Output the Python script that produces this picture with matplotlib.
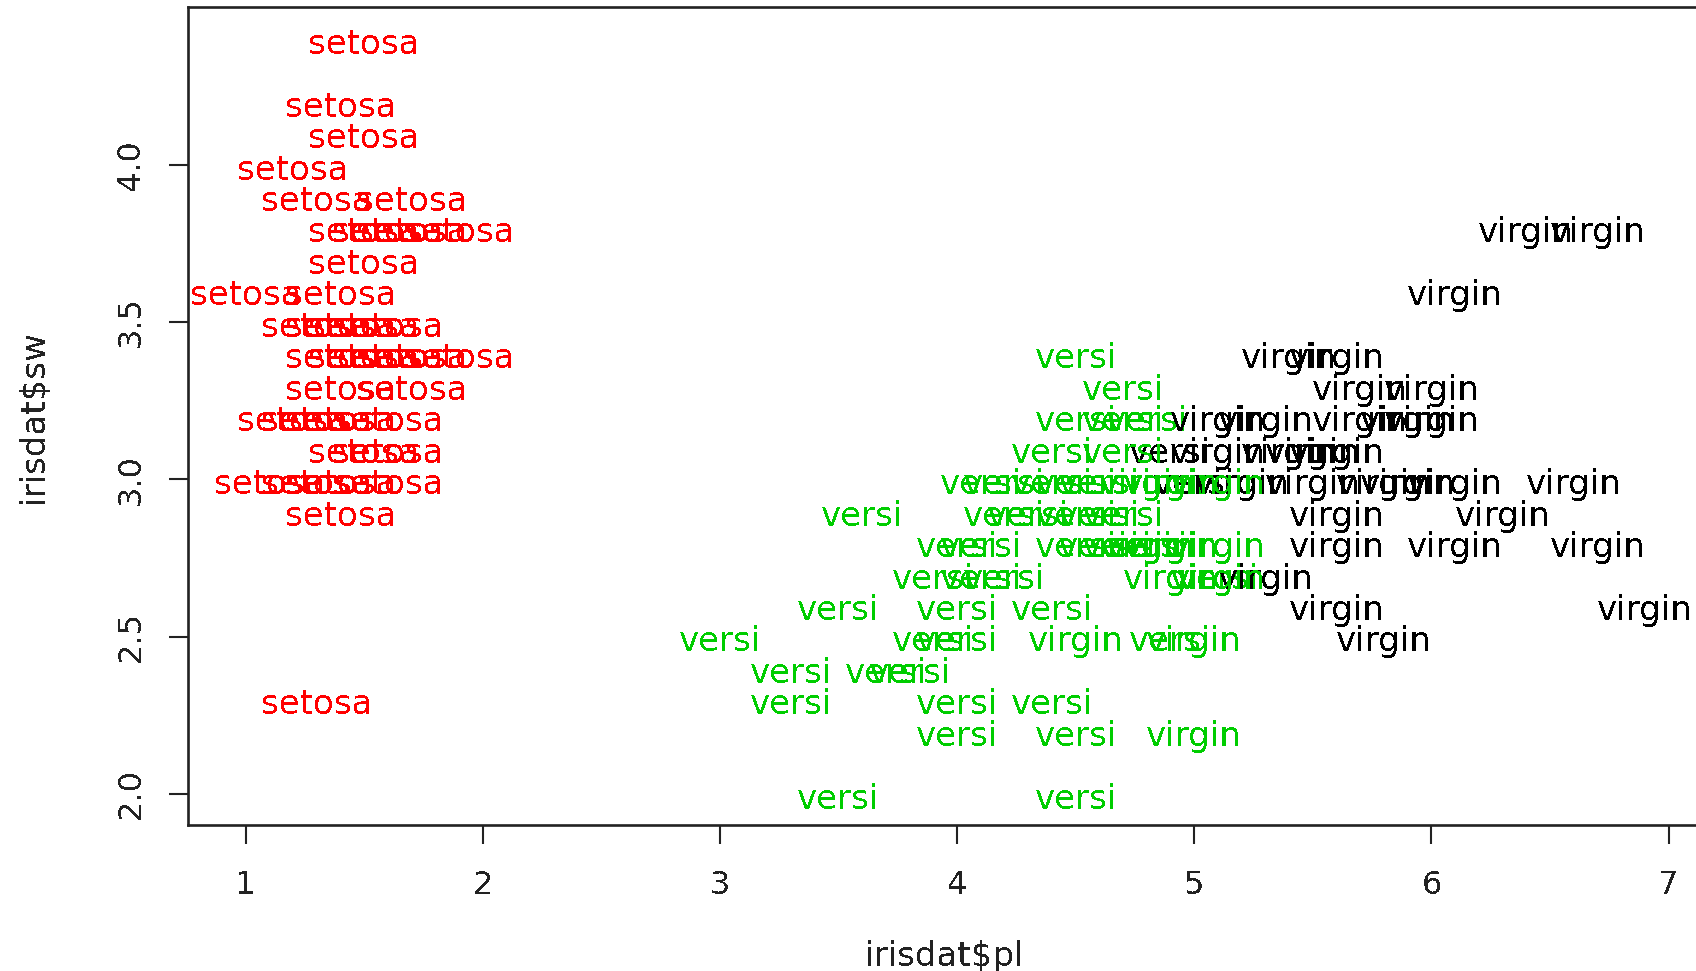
import matplotlib
matplotlib.use("Agg")
import matplotlib.pyplot as plt
from matplotlib.transforms import offset_copy

plt.rcParams['font.family'] = 'DejaVu Sans'
plt.rcParams['text.antialiased'] = False

# petal length / sepal width per species, in data order
setosa_pl = [1.4, 1.4, 1.3, 1.5, 1.4, 1.7, 1.4, 1.5, 1.4, 1.5, 1.5, 1.6, 1.4, 1.1, 1.2, 1.5, 1.3, 1.4, 1.7, 1.5,
             1.7, 1.5, 1.0, 1.7, 1.9, 1.6, 1.6, 1.5, 1.4, 1.6, 1.6, 1.5, 1.5, 1.4, 1.5, 1.2, 1.3, 1.4, 1.3, 1.5,
             1.3, 1.3, 1.3, 1.6, 1.9, 1.4, 1.6, 1.4, 1.5, 1.4]
setosa_sw = [3.5, 3.0, 3.2, 3.1, 3.6, 3.9, 3.4, 3.4, 2.9, 3.1, 3.7, 3.4, 3.0, 3.0, 4.0, 4.4, 3.9, 3.5, 3.8, 3.8,
             3.4, 3.7, 3.6, 3.3, 3.4, 3.0, 3.4, 3.5, 3.4, 3.2, 3.1, 3.4, 4.1, 4.2, 3.1, 3.2, 3.5, 3.6, 3.0, 3.4,
             3.5, 2.3, 3.2, 3.5, 3.8, 3.0, 3.8, 3.2, 3.7, 3.3]

versi_pl = [4.7, 4.5, 4.9, 4.0, 4.6, 4.5, 4.7, 3.3, 4.6, 3.9, 3.5, 4.2, 4.0, 4.7, 3.6, 4.4, 4.5, 4.1, 4.5, 3.9,
            4.8, 4.0, 4.9, 4.7, 4.3, 4.4, 4.8, 5.0, 4.5, 3.5, 3.8, 3.7, 3.9, 5.1, 4.5, 4.5, 4.7, 4.4, 4.1, 4.0,
            4.4, 4.6, 4.0, 3.3, 4.2, 4.2, 4.2, 4.3, 3.0, 4.1]
versi_sw = [3.2, 3.2, 3.1, 2.3, 2.8, 2.8, 3.3, 2.4, 2.9, 2.7, 2.0, 3.0, 2.2, 2.9, 2.9, 3.1, 2.0, 2.7, 2.2, 2.5,
            3.2, 2.8, 2.5, 2.8, 2.9, 3.0, 2.8, 3.0, 2.9, 2.6, 2.4, 2.4, 2.7, 2.7, 3.0, 3.4, 3.1, 2.3, 3.0, 2.5,
            2.6, 3.0, 2.6, 2.3, 2.7, 3.0, 2.9, 2.9, 2.5, 2.8]

virgin_pl = [6.0, 5.1, 5.9, 5.6, 5.8, 6.6, 4.5, 6.3, 5.8, 6.1, 5.1, 5.3, 5.5, 5.0, 5.1, 5.3, 5.5, 6.7, 6.9, 5.0,
             5.7, 4.9, 6.7, 4.9, 5.7, 6.0, 4.8, 4.9, 5.6, 5.8, 6.1, 6.4, 5.6, 5.1, 5.6, 6.1, 5.6, 5.5, 4.8, 5.4,
             5.6, 5.1, 5.1, 5.9, 5.7, 5.2, 5.0, 5.2, 5.4, 5.1]
virgin_sw = [3.3, 2.7, 3.0, 2.9, 3.0, 3.0, 2.5, 2.9, 2.5, 3.6, 3.2, 2.7, 3.0, 2.5, 2.8, 3.2, 3.0, 3.8, 2.6, 2.2,
             3.2, 2.8, 2.8, 2.7, 3.3, 3.2, 2.8, 3.0, 2.8, 3.0, 2.8, 3.8, 2.8, 2.8, 2.6, 3.0, 3.4, 3.1, 3.0, 3.1,
             3.1, 3.1, 2.7, 3.2, 3.3, 3.0, 2.5, 3.0, 3.4, 3.0]

# cluster of each flower (1, 2, 3) -> colour
setosa_cl = [1] * 50
versi_cl = [2, 2, 3, 2, 2, 2, 2, 2, 2, 2, 2, 2, 2, 2, 2, 2, 2, 2, 2, 2, 2, 2, 2, 2, 2,
            2, 2, 3, 2, 2, 2, 2, 2, 2, 2, 2, 2, 2, 2, 2, 2, 2, 2, 2, 2, 2, 2, 2, 2, 2]
virgin_cl = [3, 2, 3, 3, 3, 3, 2, 3, 3, 3, 3, 3, 3, 2, 2, 3, 3, 3, 3, 2, 3, 2, 3, 2, 3,
             3, 2, 2, 3, 3, 3, 3, 3, 2, 3, 3, 3, 3, 2, 3, 3, 3, 2, 3, 3, 3, 2, 3, 3, 2]

species_names = ['setosa', 'versi', 'virgin']
cluster_colors = {1: '#ff0000', 2: '#00cd00', 3: '#000000'}

x_ticks = [1, 2, 3, 4, 5, 6, 7]
y_ticks = [2.0, 2.5, 3.0, 3.5, 4.0]

W, H = 1696, 971
fig = plt.figure(figsize=(W / 100, H / 100), dpi=100)
ax = fig.add_axes([188.3 / W, 1 - 825.3 / H, (1700.9 - 188.3) / W, (825.3 - 7.3) / H])

# labels sit a little below the point, as R's text() centres them
label_tr = offset_copy(ax.transData, fig=fig, x=0, y=-5.4, units='dots')

groups = [(setosa_pl, setosa_sw, setosa_cl), (versi_pl, versi_sw, versi_cl), (virgin_pl, virgin_sw, virgin_cl)]
for name, (pl, sw, cl) in zip(species_names, groups):
    for x, y, c in zip(pl, sw, cl):
        ax.text(x, y, name, color=cluster_colors[c], fontsize=24.5, transform=label_tr,
                ha='center', va='center', clip_on=True)

ax.set_xlim(0.758, 7.136)
ax.set_ylim(1.90, 4.50)

ax.set_xticks(x_ticks)
ax.set_xticklabels([str(t) for t in x_ticks])
ax.set_yticks(y_ticks)
ax.set_yticklabels(['%.1f' % t for t in y_ticks], rotation=90, va='center')

for s in ax.spines.values():
    s.set_linewidth(1.9)
    s.set_color('#222222')
ax.tick_params(axis='both', direction='out', length=13.5, width=1.5, color='#222222',
               labelsize=23, labelcolor='#222222')
ax.tick_params(axis='x', pad=18.5)
ax.tick_params(axis='y', pad=16.4)

ax.set_xlabel('irisdat$pl', fontsize=24.5, color='#222222')
ax.set_ylabel('irisdat$sw', fontsize=24.5, color='#222222')
ax.xaxis.set_label_coords(0.5, -0.1406)
ax.yaxis.set_label_coords(-0.0918, 0.5)

fig.savefig('out.png', dpi=100)
